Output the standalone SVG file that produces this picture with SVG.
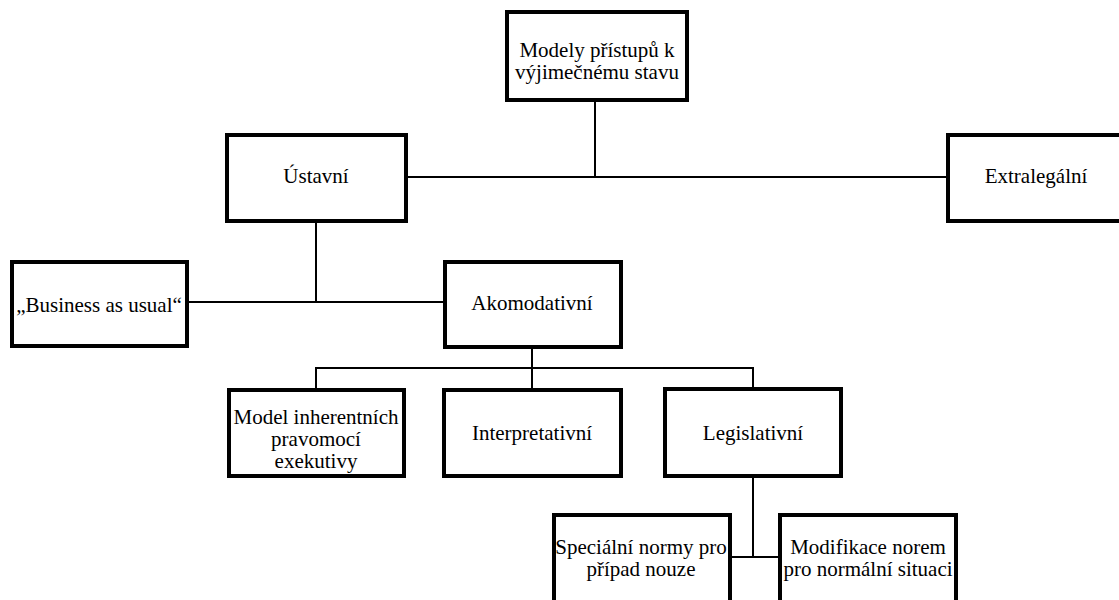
<svg xmlns="http://www.w3.org/2000/svg" width="1119" height="600" viewBox="0 0 1119 600">
<style>
.box{fill:#fff;stroke:#000;stroke-width:4}
.ln{stroke:#000;stroke-width:2;fill:none}
.t{font-family:'Liberation Serif','Times New Roman',Times,serif;font-size:21px;fill:#000;text-anchor:middle}
</style>
<rect width="1119" height="600" fill="#fff"/>
<g id="connectors">
<line class="ln" x1="595" y1="100" x2="595" y2="177"/>
<line class="ln" x1="406" y1="177" x2="948" y2="177"/>
<line class="ln" x1="316" y1="221" x2="316" y2="302"/>
<line class="ln" x1="187" y1="302" x2="445" y2="302"/>
<line class="ln" x1="532" y1="347" x2="532" y2="390"/>
<line class="ln" x1="316" y1="368" x2="753" y2="368"/>
<line class="ln" x1="316" y1="367" x2="316" y2="390"/>
<line class="ln" x1="753" y1="367" x2="753" y2="389"/>
<line class="ln" x1="753" y1="476" x2="753" y2="557"/>
<line class="ln" x1="730" y1="557" x2="780" y2="557"/>
</g>
<g id="n-root"><rect class="box" x="507" y="12" width="180" height="88"/><text class="t" font-family="Liberation Serif, serif" x="597" y="57">Modely přístupů k</text><text class="t" font-family="Liberation Serif, serif" x="597" y="79">výjimečnému stavu</text></g>
<g id="n-ustavni"><rect class="box" x="227" y="135" width="179" height="86"/><text class="t" font-family="Liberation Serif, serif" x="316" y="183">Ústavní</text></g>
<g id="n-extralegalni"><rect class="box" x="948" y="135" width="180" height="86"/><text class="t" font-family="Liberation Serif, serif" x="1036" y="183">Extralegální</text></g>
<g id="n-business"><rect class="box" x="12" y="262" width="175" height="84"/><text class="t" font-family="Liberation Serif, serif" x="99" y="312">„Business as usual“</text></g>
<g id="n-akomodativni"><rect class="box" x="445" y="262" width="176" height="85"/><text class="t" font-family="Liberation Serif, serif" x="532" y="310">Akomodativní</text></g>
<g id="n-model"><rect class="box" x="229" y="390" width="175" height="86"/><text class="t" font-family="Liberation Serif, serif" x="316" y="424">Model inherentních</text><text class="t" font-family="Liberation Serif, serif" x="316" y="446">pravomocí</text><text class="t" font-family="Liberation Serif, serif" x="316" y="468">exekutivy</text></g>
<g id="n-interpretativni"><rect class="box" x="444" y="390" width="177" height="86"/><text class="t" font-family="Liberation Serif, serif" x="532" y="440">Interpretativní</text></g>
<g id="n-legislativni"><rect class="box" x="665" y="389" width="176" height="87"/><text class="t" font-family="Liberation Serif, serif" x="753" y="440">Legislativní</text></g>
<g id="n-specialni"><rect class="box" x="554" y="515" width="176" height="100"/><text class="t" font-family="Liberation Serif, serif" x="641" y="554">Speciální normy pro</text><text class="t" font-family="Liberation Serif, serif" x="641" y="576">případ nouze</text></g>
<g id="n-modifikace"><rect class="box" x="780" y="515" width="176" height="100"/><text class="t" font-family="Liberation Serif, serif" x="868" y="554">Modifikace norem</text><text class="t" font-family="Liberation Serif, serif" x="868" y="576">pro normální situaci</text></g>
</svg>
